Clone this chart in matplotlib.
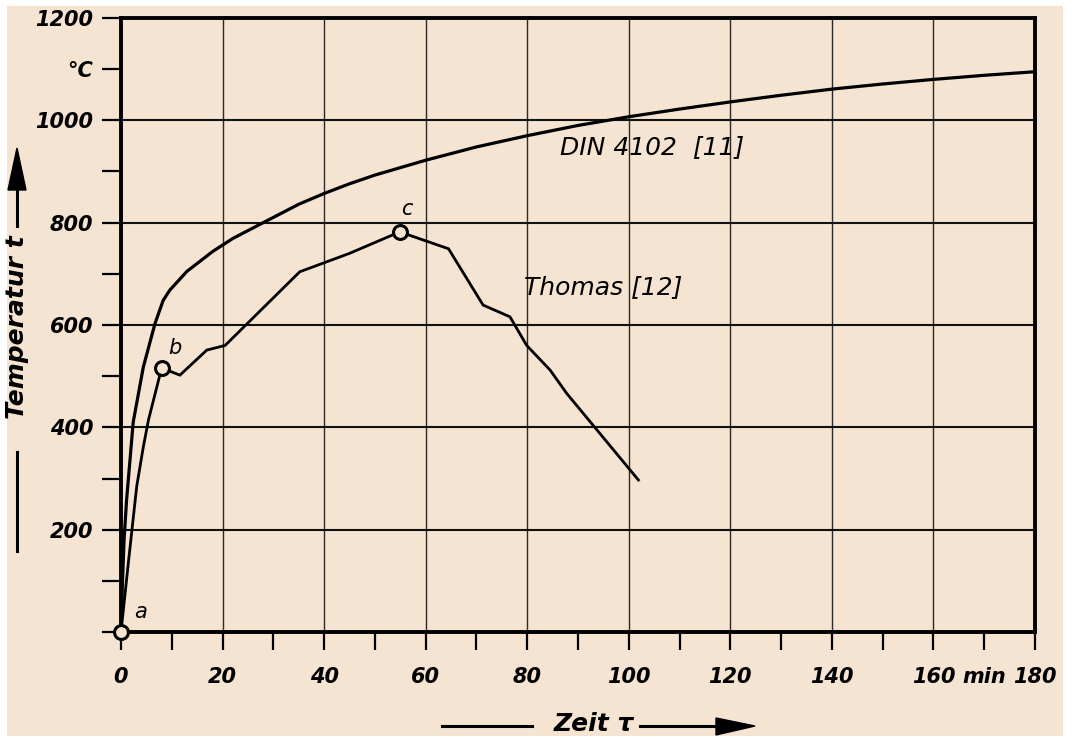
import matplotlib
matplotlib.use("Agg")
import matplotlib.pyplot as plt
from matplotlib.lines import Line2D
from matplotlib.patches import Polygon, Rectangle

W, H = 1074, 739
BG = "#f4e4d1"

# ---- data ----
din_t = [0, 0.3, 0.6, 1.1, 2.4, 4.4, 6.7, 8.3, 9.6, 13, 18.1, 22, 28, 35, 40, 45, 50,
         60, 70, 80, 90, 100, 110, 120, 130, 140, 150, 160, 170, 180]
din_y = [0, 100, 180, 258, 410, 518, 603, 648, 668, 705, 744, 769, 800, 836, 857, 876, 893,
         922, 948, 970, 990, 1007, 1022, 1036, 1049, 1061, 1071, 1080, 1088, 1095]

th_t = [0, 1.5, 3.1, 4.4, 5.4, 8.0, 11.6, 16.9, 20.5, 35.2, 45, 54.9, 64.5, 71.3, 76.6, 79.9, 84.5, 87.8, 101.9]
th_y = [0, 140, 285, 362, 414, 516, 502, 551, 560, 704, 740, 782, 749, 639, 616, 560, 512, 466, 297]

pt_t = [0, 8.0, 54.9]
pt_y = [0, 516, 782]
pt_lab = ["a", "b", "c"]
pt_lab_t = [3.9, 10.6, 56.3]
pt_lab_y = [40, 556, 826]

x_ticks = list(range(0, 181, 10))
x_labels = ["0", "", "20", "", "40", "", "60", "", "80", "", "100", "", "120", "", "140", "", "160", "min", "180"]
y_ticks = list(range(0, 1201, 100))
y_labels = ["", "", "200", "", "400", "", "600", "", "800", "", "1000", "°C", "1200"]

fig = plt.figure(figsize=(W / 100, H / 100), dpi=100)
fig.patch.set_facecolor("white")
fig.add_artist(Rectangle((7 / W, 1 - 736 / H), (1063 - 7) / W, (736 - 6) / H,
                         transform=fig.transFigure, facecolor=BG, edgecolor="none", zorder=-10))

ax = fig.add_axes([121 / W, 1 - 632 / H, (1035 - 121) / W, (632 - 18) / H])
ax.set_facecolor("none")
ax.set_xlim(0, 180)
ax.set_ylim(0, 1200)

# grid
for gx in range(20, 180, 20):
    ax.axvline(gx, color="#2a2a2a", lw=1.0, zorder=1)
for gy in range(200, 1200, 200):
    ax.axhline(gy, color="#111111", lw=1.5, zorder=1)

for s in ax.spines.values():
    s.set_linewidth(2.8)
    s.set_color("black")

tickfont = dict(family="DejaVu Sans", style="italic", weight="bold", size=15)
ax.set_xticks(x_ticks)
ax.set_xticklabels(x_labels, **tickfont)
ax.set_yticks(y_ticks)
ax.set_yticklabels(y_labels, **tickfont)
ax.tick_params(axis="x", direction="out", length=13, width=1.6, pad=12)
ax.tick_params(axis="y", direction="out", length=14, width=1.6, pad=6)

ax.plot(din_t, din_y, color="black", lw=2.3, zorder=3, solid_joinstyle="round")
ax.plot(th_t, th_y, color="black", lw=2.0, zorder=3, solid_joinstyle="miter")
ax.plot(pt_t, pt_y, linestyle="none", marker="o", markersize=10, markerfacecolor=BG,
        markeredgecolor="black", markeredgewidth=2.2, zorder=5, clip_on=False)

for lt, ly, s in zip(pt_lab_t, pt_lab_y, pt_lab):
    ax.text(lt, ly, s, fontsize=15, style="italic", ha="center", va="center", zorder=6)

ax.text(104.5, 948, "DIN 4102  [11]", fontsize=18, style="italic", ha="center", va="center")
ax.text(95, 674, "Thomas [12]", fontsize=18, style="italic", ha="center", va="center")

# axis labels with arrows (figure pixel coordinates)
def fx(px):
    return px / W

def fy(py):
    return 1 - py / H

lab_font = dict(family="DejaVu Sans", style="italic", weight="bold", size=18)

# y label
fig.add_artist(Line2D([fx(17), fx(17)], [fy(185), fy(226)], color="black", lw=2.2))
fig.add_artist(Line2D([fx(17), fx(17)], [fy(452), fy(551)], color="black", lw=2.2))
fig.add_artist(Polygon([[fx(17), fy(148)], [fx(8), fy(190)], [fx(26), fy(190)]],
                       closed=True, transform=fig.transFigure, facecolor="black", edgecolor="black"))
fig.text(fx(17), fy(327), "Temperatur t", rotation=90, ha="center", va="center", **lab_font)

# x label
fig.add_artist(Line2D([fx(442), fx(532)], [fy(726), fy(726)], color="black", lw=2.2))
fig.add_artist(Line2D([fx(640), fx(722)], [fy(726), fy(726)], color="black", lw=2.2))
fig.add_artist(Polygon([[fx(755), fy(726)], [fx(716), fy(718)], [fx(716), fy(735)]],
                       closed=True, transform=fig.transFigure, facecolor="black", edgecolor="black"))
fig.text(fx(594), fy(724), "Zeit τ", ha="center", va="center", **lab_font)

fig.savefig("out.png", dpi=100, facecolor=fig.get_facecolor())
